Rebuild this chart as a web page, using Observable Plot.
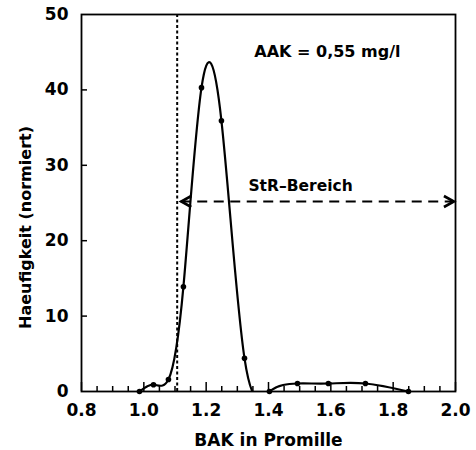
<!DOCTYPE html>
<html><head><meta charset="utf-8">
<script src="https://cdn.jsdelivr.net/npm/d3@7"></script>
<script src="https://cdn.jsdelivr.net/npm/@observablehq/plot@0.6"></script>
<style>
body{margin:0;background:#fff}
</style>
</head><body><div id="chart"></div>
<script>
// BAK (Promille) and normalized frequency
const bak =          [0.986, 1.031, 1.079, 1.127, 1.185, 1.249, 1.323, 1.403, 1.493, 1.592, 1.711, 1.849];
const haeufigkeit =  [0,     0.9,   1.6,   13.9,  40.3,  35.9,  4.4,   0,     1.06,  1.06,  1.06,  0];
const xTicks = [0.8, 1.0, 1.2, 1.4, 1.6, 1.8, 2.0];
const xMinorTicks = [0.85, 0.9, 0.95, 1.05, 1.1, 1.15, 1.25, 1.3, 1.35, 1.45, 1.5, 1.55, 1.65, 1.7, 1.75, 1.85, 1.9, 1.95];
const yTicks = [0, 10, 20, 30, 40, 50];
const yInnerTicks = [10, 20, 30, 40];
const grenzwert = [1.107];
const strBereich = [1.12, 1.995];
const strLevel = 25.2;
const xLabel = "BAK in Promille";
const yLabel = "Haeufigkeit (normiert)";
const aakText = "AAK = 0,55 mg/l";
const strText = "StR–Bereich";

const points = bak.map((x, i) => ({x, y: haeufigkeit[i]}));

// chevron arrowheads (tip at the symbol origin)
const chevronRight = {draw(ctx) { ctx.moveTo(-10, -5.5); ctx.lineTo(0, 0); ctx.lineTo(-10, 5.5); }};
const chevronLeft  = {draw(ctx) { ctx.moveTo(10, -5.5); ctx.lineTo(0, 0); ctx.lineTo(10, 5.5); }};

const font = "DejaVu Sans";
const chart = Plot.plot({
  width: 476, height: 450,
  marginLeft: 81, marginRight: 21, marginTop: 14, marginBottom: 59,
  x: {domain: [0.8, 2.0]},
  y: {domain: [0, 50]},
  style: {fontFamily: font, fontWeight: "bold", fontSize: "17px", background: "white", color: "black", overflow: "visible"},
  marks: [
    Plot.axisX({ticks: xTicks, tickFormat: d3.format(".1f"), tickSize: 0, tickPadding: 12, label: null, fontSize: 17}),
    Plot.axisX({ticks: xMinorTicks, tickSize: -5, text: null, label: null, strokeWidth: 1.5}),
    Plot.axisX({ticks: xTicks, tickSize: -9, text: null, label: null, strokeWidth: 1.5}),
    Plot.axisY({ticks: yTicks, tickSize: 0, tickPadding: 13, label: null, fontSize: 17}),
    Plot.axisY({ticks: yInnerTicks, tickSize: -6, text: null, label: null, strokeWidth: 1.5}),
    Plot.ruleX(grenzwert, {strokeWidth: 2, strokeDasharray: "3,2.5"}),
    Plot.ruleY([strLevel], {x1: strBereich[0], x2: strBereich[1], strokeWidth: 2, strokeDasharray: "10,6.5"}),
    Plot.dot([strBereich[0]], {x: d => d, y: strLevel, symbol: chevronLeft, stroke: "black", fill: "none", strokeWidth: 2.6, strokeLinejoin: "miter"}),
    Plot.dot([strBereich[1]], {x: d => d, y: strLevel, symbol: chevronRight, stroke: "black", fill: "none", strokeWidth: 2.6, strokeLinejoin: "miter"}),
    Plot.line(points, {x: "x", y: "y", curve: "natural", strokeWidth: 2.2, clip: true}),
    Plot.dot(points, {x: "x", y: "y", r: 2.8, fill: "black"}),
    Plot.frame({strokeWidth: 1.8}),
    Plot.text([aakText], {text: d => d, frameAnchor: "top-right", textAnchor: "end", lineAnchor: "middle", dx: -55, dy: 37.5, fontSize: 16}),
    Plot.text([strText], {text: d => d, x: (strBereich[0] + strBereich[1]) / 2, y: strLevel, dx: -17, dy: -15.5, lineAnchor: "middle", fontSize: 15.5}),
    Plot.text([xLabel], {text: d => d, frameAnchor: "bottom", lineAnchor: "middle", dy: 49.5, fontSize: 17}),
    Plot.text([yLabel], {text: d => d, frameAnchor: "left", textAnchor: "middle", rotate: -90, lineAnchor: "middle", dx: -55.5, dy: 24.5, fontSize: 16})
  ]
});
document.getElementById("chart").appendChild(chart);
</script>
</body></html>
